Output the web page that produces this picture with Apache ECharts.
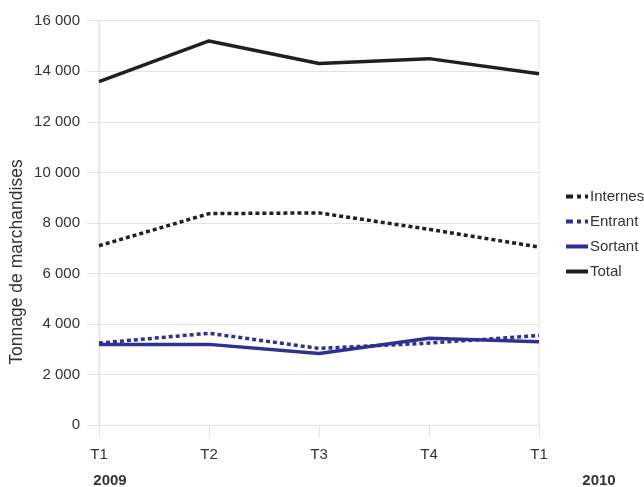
<!DOCTYPE html>
<html><head><meta charset="utf-8">
<script src="https://cdn.jsdelivr.net/npm/echarts@6/dist/echarts.min.js"></script>
<style>html,body{margin:0;padding:0;background:#fff}#c{width:644px;height:487px}</style>
</head><body><div id="c"></div>
<script>
var categories = ['T1', 'T2', 'T3', 'T4', 'T1'];
var internes = [7100, 8370, 8400, 7750, 7050];
var entrant = [3250, 3640, 3040, 3250, 3550];
var sortant = [3200, 3200, 2840, 3440, 3300];
var total = [13590, 15200, 14310, 14500, 13900];
var yearLabels = ['2009', '2010'];
var yTitle = 'Tonnage de marchandises';

var BLACK = '#231f20', BLUE = '#2e3192', TXT = '#333333', GRID = '#e3e3e3';
var DOT_ICON = 'path://M0,0H7V4H0Z M11,0H15V4H11Z M19,0H22V4H19Z';
var SOLID_ICON = 'path://M0,0H22V4H0Z';
var chart = echarts.init(document.getElementById('c'), null, {renderer: 'canvas'});
function fmt(v){ return String(v).replace(/\B(?=(\d{3})+(?!\d))/g, ' '); }
var font = 'Liberation Sans, Arial, sans-serif';
chart.setOption({
  animation: false,
  textStyle: {fontFamily: font},
  grid: {left: 99, right: 105, top: 20.7, bottom: 61.7, show: true, borderColor: GRID, borderWidth: 1},
  legend: {
    orient: 'vertical', left: 561, top: 184, itemWidth: 22, itemHeight: 4, itemGap: 10,
    textStyle: {fontSize: 15, color: TXT, fontFamily: font, padding: [0,0,0,-3]},
    data: [
      {name: 'Internes', icon: DOT_ICON},
      {name: 'Entrant', icon: DOT_ICON},
      {name: 'Sortant', icon: SOLID_ICON},
      {name: 'Total', icon: SOLID_ICON}
    ]
  },
  xAxis: {
    type: 'category', data: categories, boundaryGap: false,
    axisLine: {show: false},
    axisTick: {show: true, length: 12, lineStyle: {color: GRID}},
    axisLabel: {margin: 22, fontSize: 15, color: TXT, fontFamily: font},
    splitLine: {show: false}
  },
  yAxis: {
    type: 'value', min: 0, max: 16000, interval: 2000,
    axisLine: {show: true, lineStyle: {color: GRID}},
    axisTick: {show: true, length: 12, lineStyle: {color: GRID}},
    axisLabel: {margin: 19, fontSize: 15, color: TXT, fontFamily: font, formatter: fmt},
    splitLine: {lineStyle: {color: GRID}}
  },
  graphic: [
    {type: 'text', x: 17, y: 262, rotation: Math.PI/2,
     style: {text: yTitle, fontSize: 17.5, fill: TXT, fontFamily: font, textAlign: 'center', textVerticalAlign: 'middle'}},
    {type: 'text', x: 110, y: 481,
     style: {text: yearLabels[0], fontSize: 15, fontWeight: 'bold', fill: TXT, fontFamily: font, textAlign: 'center', textVerticalAlign: 'middle'}},
    {type: 'text', x: 599, y: 481,
     style: {text: yearLabels[1], fontSize: 15, fontWeight: 'bold', fill: TXT, fontFamily: font, textAlign: 'center', textVerticalAlign: 'middle'}}
  ],
  series: [
    {name: 'Internes', type: 'line', data: internes, symbol: 'none', color: BLACK,
     lineStyle: {color: BLACK, width: 3.5, type: [4, 3]}},
    {name: 'Entrant', type: 'line', data: entrant, symbol: 'none', color: BLUE,
     lineStyle: {color: BLUE, width: 3.5, type: [4, 3]}},
    {name: 'Sortant', type: 'line', data: sortant, symbol: 'none', color: BLUE,
     lineStyle: {color: BLUE, width: 3.5}},
    {name: 'Total', type: 'line', data: total, symbol: 'none', color: BLACK,
     lineStyle: {color: BLACK, width: 3.5}}
  ]
});
</script></body></html>
